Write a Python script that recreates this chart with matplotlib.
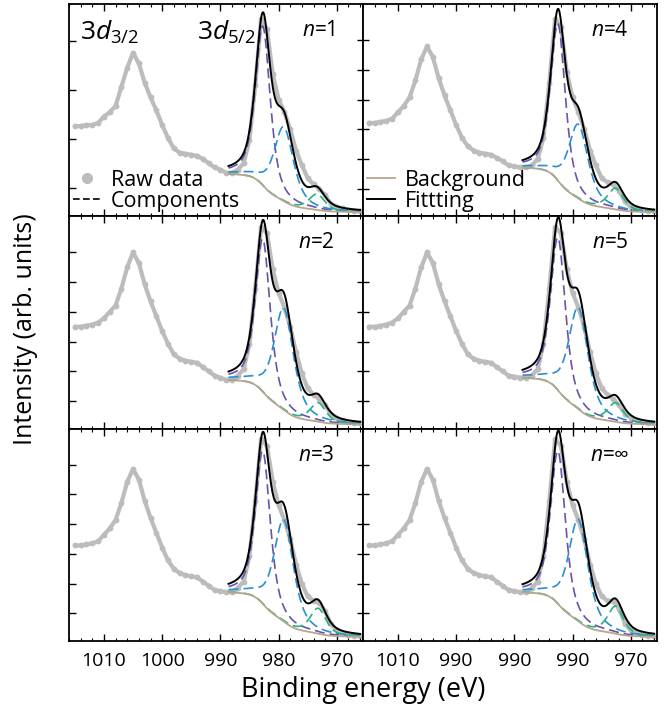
import numpy as np
import matplotlib
matplotlib.use('Agg')
from matplotlib import pyplot as plt
from matplotlib.lines import Line2D
from matplotlib.ticker import MultipleLocator, FixedLocator, FixedFormatter

plt.rcParams['font.family'] = ['Open Sans', 'DejaVu Sans']
plt.rcParams['mathtext.fontset'] = 'custom'
plt.rcParams['mathtext.rm'] = 'Open Sans'
plt.rcParams['mathtext.it'] = 'Open Sans:italic'

# raw spectra, intensity in % of panel height, 1015 eV down to 966 eV in 1 eV steps
energy = np.arange(1015, 965, -1)
raw_n1 = [42.5, 42.5, 43, 43, 44, 47, 49, 52, 61, 70, 77, 72, 63, 56, 50, 43, 37, 32, 30, 29.5,
          29, 28.5, 27, 25, 23, 22, 20.5, 20.5, 22, 25, 36, 62, 93, 88, 67, 55, 49, 41, 31, 24,
          18, 15, 13, 10, 6, 4.5, 3.8, 3, 2.5, 2.5]
raw_n2 = [48, 48, 48.5, 49, 50, 52, 55, 58, 66, 76, 83, 78, 68, 60, 53, 46, 40, 35, 33, 32,
          31.5, 31, 29, 27, 25, 24, 23, 23, 25, 28, 40, 66, 95, 92, 75, 64, 57, 48, 36, 26,
          19, 16, 14, 11, 7, 5, 4, 3, 2.5, 2.5]
raw_n3 = [45, 45, 45.5, 46, 47, 50, 53, 57, 65, 75, 81, 76, 66, 58, 51, 44, 38, 34, 32, 31,
          30.5, 30, 28, 26, 24, 23.5, 23, 23, 25, 28, 40, 66, 95, 92, 75, 64, 57, 48, 36, 27,
          21, 19, 18, 14, 8, 5, 4, 3, 2.5, 2.5]
raw_n4 = [44, 44, 44.5, 45, 46, 49, 52, 56, 64, 74, 80, 75, 65, 57, 50, 43, 37, 33, 31, 30,
          29.5, 29, 27.5, 26, 24, 23.5, 23, 23, 24, 27, 37, 63, 93, 89, 68, 56, 49, 41, 31, 24,
          18, 16, 15, 12, 7, 4.5, 3.8, 3, 2.5, 2.5]
raw_n5 = [48, 48, 48.5, 49, 50, 52, 55, 58, 66, 76, 83, 78, 68, 60, 53, 46, 40, 35, 33, 32,
          31.5, 31, 29, 27, 25, 24.5, 24, 24, 25, 28, 40, 66, 95, 92, 75, 64, 57, 48, 36, 26,
          19, 16, 14, 11, 7, 5, 4, 3, 2.5, 2.5]
raw_ninf = [45, 45, 45.5, 46, 47, 50, 53, 57, 65, 75, 81, 76, 66, 58, 51, 44, 38, 34, 32, 31,
            30.5, 30, 28, 26, 24, 23.5, 23, 23, 25, 28, 40, 66, 95, 92, 75, 64, 57, 48, 36, 27,
            21, 19, 19, 15, 8, 5, 4, 3, 2.5, 2.5]

# fitted components: (centre eV, amplitude %, fwhm eV)
main_n1, mid_n1, sat_n1 = (982.7, 75, 3.0), (979.1, 35, 4.0), (973.4, 7.5, 3.2)
main_n2, mid_n2, sat_n2 = (982.7, 72, 3.0), (979.1, 48, 4.0), (973.2, 9, 3.2)
main_n3, mid_n3, sat_n3 = (982.7, 72, 3.0), (979.1, 48, 4.0), (973.2, 12, 3.2)
main_n4, mid_n4, sat_n4 = (982.5, 74, 3.0), (979.0, 35, 4.0), (972.6, 10, 3.2)
main_n5, mid_n5, sat_n5 = (982.5, 72, 3.0), (979.0, 48, 4.0), (972.6, 9, 3.2)
main_ninf, mid_ninf, sat_ninf = (982.5, 72, 3.0), (979.0, 48, 4.0), (972.6, 13, 3.2)
# shirley background end levels (high-BE side, low-BE side)
bg_levels = [(20, 2), (23, 2), (23, 2), (23, 2), (24, 2), (23, 2)]
labels = ['1', '2', '3', '4', '5', '\u221e']
tick_text = [['1010', '1000', '990', '980', '970'], ['1010', '990', '990', '990', '970']]

raws = [raw_n1, raw_n2, raw_n3, raw_n4, raw_n5, raw_ninf]
comps = [(main_n1, mid_n1, sat_n1), (main_n2, mid_n2, sat_n2), (main_n3, mid_n3, sat_n3),
         (main_n4, mid_n4, sat_n4), (main_n5, mid_n5, sat_n5), (main_ninf, mid_ninf, sat_ninf)]

gray = '#bcbcbc'
comp_colors = ['#6b52a8', '#2a8fcf', '#27b37d']
bg_color = '#b7a58e'


def pvoigt(x, c, a, w, eta=0.6):
    g = np.exp(-4 * np.log(2) * ((x - c) / w) ** 2)
    l = 1 / (1 + 4 * ((x - c) / w) ** 2)
    return a * (eta * l + (1 - eta) * g)


xf = np.linspace(988.6, 966, 500)

fig, axes = plt.subplots(3, 2, figsize=(6.66, 7.15), dpi=100)
fig.subplots_adjust(left=69/666, right=657/666, top=1-4/715, bottom=1-641/715, wspace=0, hspace=0)

for i in range(6):
    col = i // 3
    ax = axes[i % 3, col]
    ax.plot(energy, raws[i], color=gray, lw=3, solid_capstyle='round', zorder=1)
    ax.plot(energy, raws[i], 'o', color=gray, ms=4.2, mec='none', zorder=1)

    peaks = [pvoigt(xf, *p) for p in comps[i]]
    total = sum(peaks)
    cum = np.cumsum(total[::-1])[::-1]
    hi, lo = bg_levels[i]
    bg = lo + (hi - lo) * cum / cum[0]

    for p, c in zip(peaks, comp_colors):
        ax.plot(xf, bg + p, color=c, lw=1.2, dashes=(6, 3), zorder=2)
    ax.plot(xf, bg, color=bg_color, lw=1.3, zorder=3)
    ax.plot(xf, bg + total, color='black', lw=1.4, zorder=4)

    ax.set_xlim(1016, 965.5)
    ax.set_ylim(0, 100)
    ax.xaxis.set_major_locator(FixedLocator([1010, 1000, 990, 980, 970]))
    ax.xaxis.set_minor_locator(MultipleLocator(2))
    if i % 3 == 2:
        ax.xaxis.set_major_formatter(FixedFormatter(tick_text[col]))
    else:
        ax.set_xticklabels([])
    if i == 0:
        ax.set_yticks([13.2, 36.5, 59.5, 82.5])
    else:
        ax.set_yticks([13, 27, 41, 55, 69, 83])
    ax.set_yticklabels([])
    ax.tick_params(axis='x', which='both', direction='in', top=True, bottom=True, labelsize=14, pad=8)
    ax.tick_params(axis='x', which='major', length=5, width=1)
    ax.tick_params(axis='x', which='minor', length=2.5, width=0.8)
    if col == 1:
        ax.tick_params(axis='y', which='major', direction='inout', length=9, width=1)
    else:
        ax.tick_params(axis='y', which='major', direction='in', length=5, width=1)
    for s in ax.spines.values():
        s.set_linewidth(1.3)
    ax.text(0.905, 0.875, '$n$=' + labels[i], transform=ax.transAxes, ha='right', va='center', fontsize=15)

axes[0, 0].text(0.037, 0.865, '3$d_{3/2}$', transform=axes[0, 0].transAxes, ha='left', va='center', fontsize=19)
axes[0, 0].text(0.435, 0.865, '3$d_{5/2}$', transform=axes[0, 0].transAxes, ha='left', va='center', fontsize=19)

h1 = [Line2D([], [], marker='o', ls='', color=gray, ms=8, mec='none'),
      Line2D([], [], color='black', lw=1.2, dashes=(4, 2))]
axes[0, 0].legend(h1, ['Raw data', 'Components'], loc='lower left', frameon=False, fontsize=15.5,
                  handlelength=1.3, handletextpad=0.45, labelspacing=0.0, borderaxespad=0.0,
                  borderpad=0.2)
h2 = [Line2D([], [], color=bg_color, lw=1.3), Line2D([], [], color='black', lw=1.4)]
axes[0, 1].legend(h2, ['Background', 'Fittting'], loc='lower left', frameon=False, fontsize=15.5,
                  handlelength=1.3, handletextpad=0.45, labelspacing=0.0, borderaxespad=0.0,
                  borderpad=0.2)

fig.text(0.038, 0.54, 'Intensity (arb. units)', rotation=90, ha='center', va='center', fontsize=18)
fig.text(363/666, 1-690/715, 'Binding energy (eV)', ha='center', va='center', fontsize=19.5)

fig.savefig('out.png', dpi=100)
